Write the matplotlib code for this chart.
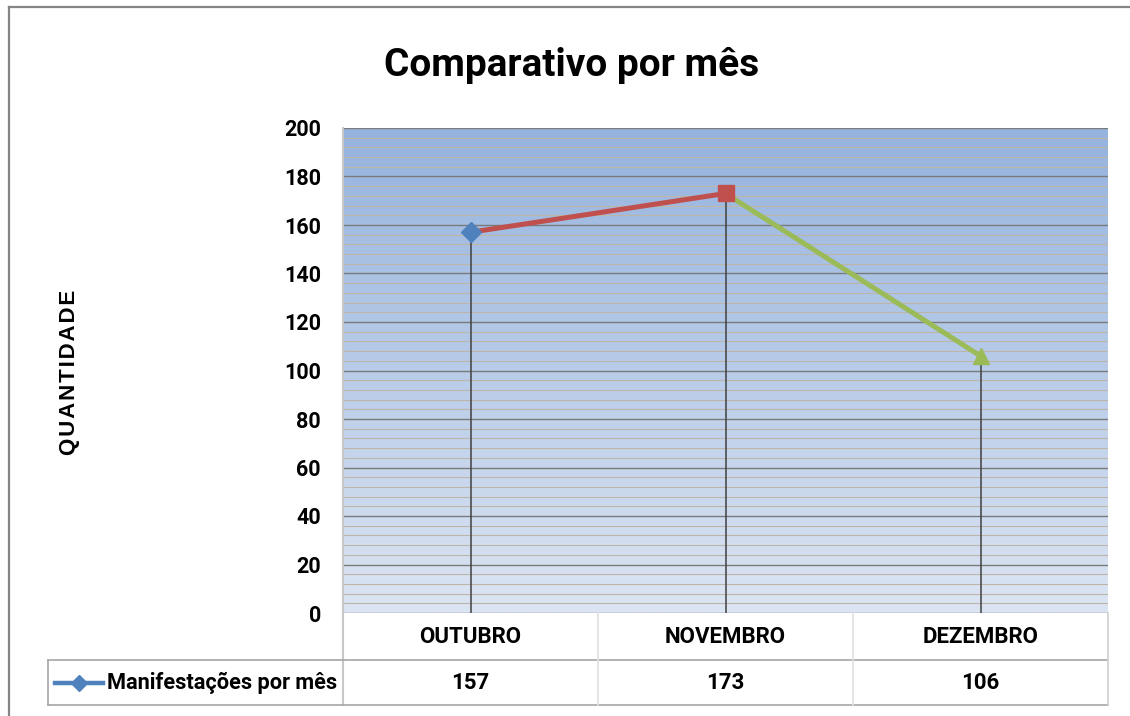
import matplotlib
matplotlib.use('Agg')
import matplotlib.pyplot as plt
import numpy as np
from matplotlib.colors import LinearSegmentedColormap

# data
meses = ['OUTUBRO', 'NOVEMBRO', 'DEZEMBRO']
valores = [157, 173, 106]
serie = 'Manifestações por mês'
rotulo_y = 'QUANTIDADE'
cores = ['#4F81BD', '#C0504D', '#9BBB59']
marcadores = ['D', 's', '^']

narrow = ['Roboto', 'DejaVu Sans']
W, H = 1130, 716

fig = plt.figure(figsize=(W / 100, H / 100), dpi=100)

# frame of the chart (only left and top show)
fig.add_artist(plt.Line2D([8.5 / W, 8.5 / W], [0, 1 - 6.5 / H], color='#858585', lw=1.6))
fig.add_artist(plt.Line2D([8.5 / W, 1], [1 - 6.5 / H, 1 - 6.5 / H], color='#858585', lw=1.6))

# plot area
x0, x1, y0, y1 = 343, 1108, 613, 128
ax = fig.add_axes([x0 / W, 1 - y0 / H, (x1 - x0) / W, (y0 - y1) / H])
x = np.arange(len(meses))
ax.set_xlim(-0.5, len(meses) - 0.5)
ax.set_ylim(0, 200)

# gradient background
grad = LinearSegmentedColormap.from_list('g', ['#DCE5F3', '#95B3DE'])
ax.imshow(np.linspace(0, 1, 256).reshape(-1, 1), cmap=grad, origin='lower',
          extent=[-0.5, len(meses) - 0.5, 0, 200], aspect='auto', zorder=0)

# grid
for v in range(0, 201, 4):
    if v % 20 == 0:
        ax.axhline(v, color='#7A7A7A', lw=1.0, zorder=1)
    else:
        ax.axhline(v, color='#BDB6A8', lw=0.8, zorder=1)

# drop lines
ax.vlines(x, 0, valores, color='#404040', lw=1.1, zorder=2)

# line segments coloured like the next point
for i in range(1, len(x)):
    ax.plot(x[i - 1:i + 1], valores[i - 1:i + 1], color=cores[i], lw=3.6,
            solid_capstyle='butt', zorder=3)
for i in range(len(x)):
    ax.plot(x[i], valores[i], marker=marcadores[i], color=cores[i],
            ms=12 if marcadores[i] != 'D' else 10, zorder=4, ls='none')

ax.set_xticks([])
ax.set_yticks(range(0, 201, 20))
ax.tick_params(axis='y', length=0, pad=16)
for lab in ax.get_yticklabels():
    lab.set_fontfamily(narrow)
    lab.set_fontweight('bold')
    lab.set_fontsize(15.5)
for s in ['top', 'right', 'bottom']:
    ax.spines[s].set_visible(False)
ax.spines['left'].set_color('#C8C8C8')
ax.spines['left'].set_linewidth(1.5)

# data table under the plot
tb = fig.add_axes([0, 0, 1, 1], facecolor='none')
tb.set_xlim(0, W)
tb.set_ylim(H, 0)
tb.axis('off')
col_w = (x1 - x0) / len(meses)
ra, rb, rc = 613, 660, 705
lc = '#A6A6A6'
tb.plot([x0, x0], [ra, rc], color='#C8C8C8', lw=1.5)
tb.plot([48, 48], [rb, rc], color=lc, lw=1.2)
tb.plot([48, x1], [rb, rb], color=lc, lw=1.2)
tb.plot([48, x1], [rc, rc], color=lc, lw=1.2)
for i in range(1, len(meses) + 1):
    xx = x0 + i * col_w
    tb.plot([xx, xx], [ra, rc], color='#D0D0D0' if i == len(meses) else '#E0E0E0', lw=1.2)
for i, (m, v) in enumerate(zip(meses, valores)):
    cx = x0 + (i + 0.5) * col_w
    tb.text(cx, 637, m, ha='center', va='center', fontsize=16, fontweight='bold', family=narrow)
    tb.text(cx, 683, str(v), ha='center', va='center', fontsize=16, fontweight='bold', family=narrow)

# legend key inside the table
tb.plot([55, 103], [683, 683], color=cores[0], lw=3.2)
tb.plot([79], [683], marker='D', color=cores[0], ms=8)
tb.text(107, 683, serie, ha='left', va='center', fontsize=15.7, fontweight='bold', family=narrow)

# title and axis label (letter-spaced like the original)
fig.text(572 / W, 1 - 66 / H, 'Comparativo por mês', ha='center', va='center',
         fontsize=28, fontweight='bold', family=narrow)
fig.text(70 / W, 1 - 372 / H, '\u200a'.join(rotulo_y), ha='center', va='center', rotation=90,
         fontsize=16, fontweight='bold', family=['Liberation Sans', 'DejaVu Sans'])

fig.savefig('out.png', dpi=100)
